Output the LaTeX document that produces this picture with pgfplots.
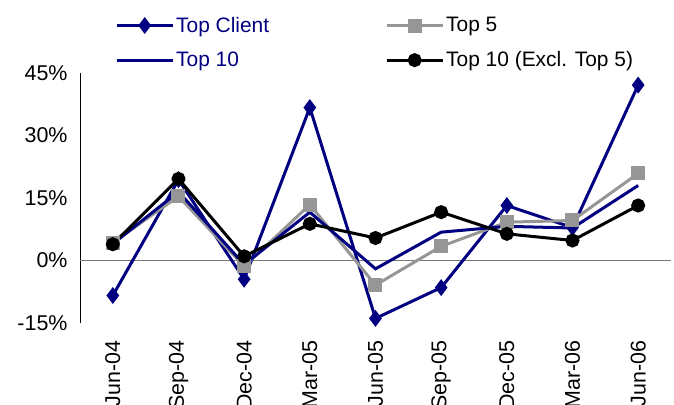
\documentclass[border=0pt]{standalone}
\usepackage{pgfplots}
\pgfplotsset{compat=1.18}
\usepackage{fontspec}
\setmainfont{Liberation Sans}
\definecolor{navy}{RGB}{0,0,128}
\definecolor{midgray}{RGB}{150,150,150}
\definecolor{zerogray}{RGB}{120,120,120}

% Quarterly growth, in percent
\pgfplotstableread{
idx topclient top5 top10 top10ex
0  -8.4   4.3   4.0   3.9
1  19.4  15.4  16.5  19.6
2  -4.5  -1.4  -1.0   1.0
3  36.7  13.4  11.6   8.8
4 -13.9  -5.9  -2.0   5.4
5  -6.5   3.4   6.8  11.6
6  13.2   9.2   8.2   6.4
7   7.9   9.6   7.8   4.8
8  42.1  20.9  18.0  13.2
}\growth

\begin{document}
\begin{tikzpicture}
\begin{axis}[
  at={(80bp,82bp)}, anchor=south west,
  scale only axis, width=591bp, height=250bp,
  xmin=-0.5, xmax=8.5, ymin=-15, ymax=45,
  separate axis lines,
  axis x line*=bottom, axis y line*=left,
  x axis line style={draw=none},
  y axis line style={-, black, line width=0.8bp},
  xtick={0,...,8},
  xticklabels={Jun-04,Sep-04,Dec-04,Mar-05,Jun-05,Sep-05,Dec-05,Mar-06,Jun-06},
  ytick={-15,0,15,30,45},
  yticklabels={-15\%,0\%,15\%,30\%,45\%},
  major tick length=0pt,
  tick style={draw=none},
  every tick label/.append style={font=\fontsize{21.5}{25}\selectfont, black},
  % rotated labels: xshift runs along the text, i.e. downwards
  xticklabel style={rotate=90, anchor=east, xshift=-14bp},
  yticklabel style={xshift=-9bp},
  legend columns=2,
  legend cell align=left,
  legend style={
    draw=none, fill=none, inner sep=0pt,
    at={(axis description cs:0,1)}, anchor=north west,
    xshift=35bp, yshift=58bp,
    font=\fontsize{21}{25}\selectfont,
    row sep=14bp,
    /tikz/every even column/.append style={inner xsep=5bp},
    /tikz/column 2/.style={column sep=114bp},
  },
  legend image code/.code={
    \draw[mark repeat=2, mark phase=2, #1]
      plot coordinates {(0bp,0bp) (28bp,0bp) (56bp,0bp)};
  },
]
% zero line
\addplot[zerogray, line width=1.2bp, forget plot] coordinates {(-0.5,0) (8.6,0)};

\addplot[navy, line width=3bp, mark=diamond*, mark size=6bp,
  mark options={solid, fill=navy}] table[x=idx, y=topclient] {\growth};
\addlegendentry{\textcolor{navy}{Top Client}}

\addplot[midgray, line width=3bp, mark=square*, mark size=5.5bp,
  mark options={solid, fill=midgray}] table[x=idx, y=top5] {\growth};
\addlegendentry{Top 5}

\addplot[navy, line width=3bp] table[x=idx, y=top10] {\growth};
\addlegendentry{\textcolor{navy}{Top 10}}

\addplot[black, line width=3bp, mark=*, mark size=5.5bp,
  mark options={solid, fill=black}] table[x=idx, y=top10ex] {\growth};
\addlegendentry{Top 10 (Excl. Top 5)}
\end{axis}
\pgfresetboundingbox
\useasboundingbox (0,0) rectangle (674bp,405bp);
\end{tikzpicture}
\end{document}
